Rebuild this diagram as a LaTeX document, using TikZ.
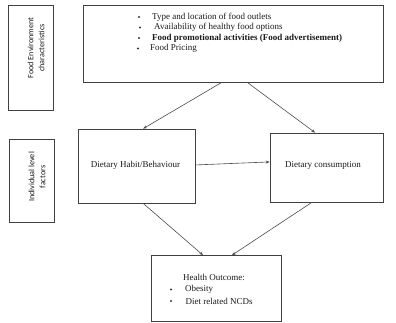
\documentclass[tikz,border=0pt]{standalone}
\usepackage{fontspec}
\setmainfont{Liberation Serif}
\newfontfamily\labfont{Carlito}
\usetikzlibrary{calc,arrows.meta}
\begin{document}
\begin{tikzpicture}[x=1pt,y=-1pt,
  box/.style={draw=black!75,line width=0.6pt,rectangle,inner sep=0pt},
  conn/.style={draw=black!70,line width=0.6pt,-{Stealth[length=4pt,width=3pt]}},
  txt/.style={inner sep=0pt,anchor=west,font=\fontsize{9}{10}\selectfont,text=black!90},
  bul/.style={circle,fill=black!80,inner sep=0pt,minimum size=2.2pt},
  vlab/.style={inner sep=0pt,rotate=90,align=center,font=\labfont\fontsize{8.2}{11}\selectfont,text=black!90}]
\useasboundingbox (0,0) rectangle (396,323);
\node[box,minimum width=45pt,minimum height=105pt] (env) at (30.5,57.5) {};
\node[vlab] (envt) at (36,48) {Food Environment\\characteristics};
\node[box,minimum width=45pt,minimum height=83pt] (ind) at (31.5,180.5) {};
\node[vlab] (indt) at (37,177) {Individual level\\factors};
\node[box,minimum width=300pt,minimum height=77pt] (top) at (233,43.5) {};
\node[box,minimum width=117pt,minimum height=74pt] (habit) at (136.5,166) {};
\node[box,minimum width=113pt,minimum height=69pt] (cons) at (326.5,167.5) {};
\node[box,minimum width=130pt,minimum height=66pt] (health) at (216.5,288.5) {};
% top box text
\node[bul] (b1) at (139,17) {};
\node[txt] (t1) at (152,17) {Type and location of food outlets};
\node[bul] (b2) at (140,27.5) {};
\node[txt] (t2) at (154,27.5) {Availability of healthy food options};
\node[bul] (b3) at (139,38) {};
\node[txt] (t3) at (152,38) {\bfseries Food promotional activities (Food advertisement)};
\node[bul] (b4) at (138,48.5) {};
\node[txt] (t4) at (150,48.5) {Food Pricing};
% middle
\node[txt,anchor=center] (ht) at (135.5,165) {Dietary Habit/Behaviour};
\node[txt,anchor=center] (ct) at (323,165) {Dietary consumption};
% health
\node[txt] (h0) at (183,277) {Health Outcome:};
\node[bul] (hb1) at (171,289.5) {};
\node[txt] (h1) at (185,289.5) {Obesity};
\node[bul] (hb2) at (171,301) {};
\node[txt] (h2) at (185.5,301) {Diet related NCDs};
% connectors
\draw[conn] ($(top.south west)!0.463!(top.south east)$) -- ($(habit.north west)!0.556!(habit.north east)$);
\draw[conn] ($(top.south west)!0.547!(top.south east)$) -- ($(cons.north west)!0.40!(cons.north east)$);
\draw[conn] ($(habit.north east)!0.486!(habit.south east)$) -- ($(cons.north west)!0.42!(cons.south west)$);
\draw[conn] ($(habit.south west)!0.556!(habit.south east)$) -- ($(health.north west)!0.397!(health.north east)$);
\draw[conn] ($(cons.south west)!0.372!(cons.south east)$) -- ($(health.north west)!0.618!(health.north east)$);
\end{tikzpicture}
\end{document}
